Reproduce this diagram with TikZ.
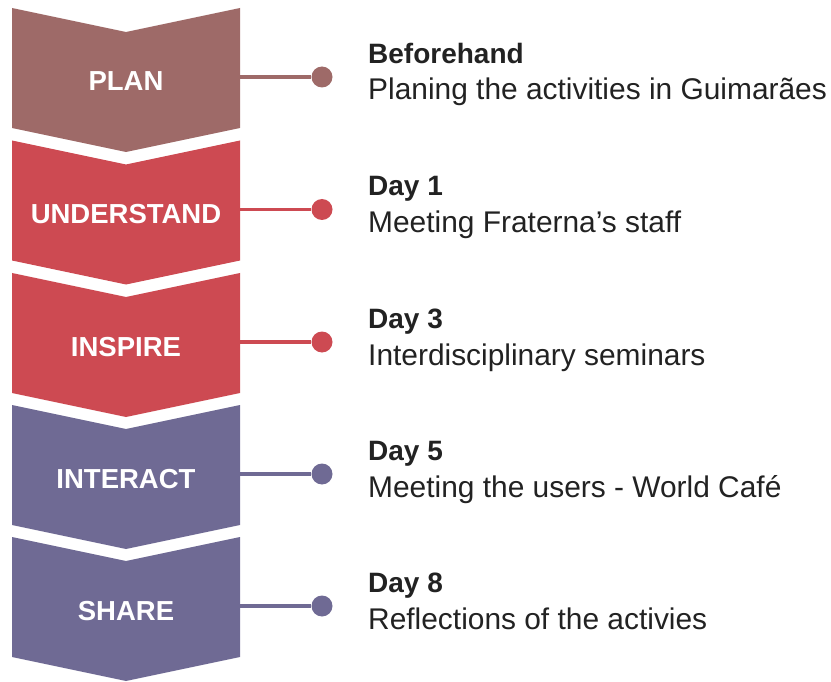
\documentclass[tikz,border=0pt]{standalone}
\usepackage{fontspec}
\setmainfont{Liberation Sans}
\definecolor{planc}{HTML}{9E6A68}
\definecolor{redc}{HTML}{CD4A52}
\definecolor{purc}{HTML}{6F6A94}
\definecolor{ink}{HTML}{222222}
\begin{document}
\begin{tikzpicture}[x=1pt,y=-1pt,
  phase/.style={font=\bfseries\fontsize{27.5}{30}\selectfont, text=white, anchor=base, inner sep=0pt},
  title/.style={font=\bfseries\fontsize{28}{32}\selectfont, text=ink, anchor=base west, inner sep=0pt},
  desc/.style={font=\fontsize{29.9}{34}\selectfont, text=ink, anchor=base west, inner sep=0pt},
  link/.style={line width=3.5pt},
  dot/.style={circle, minimum size=21pt, inner sep=0pt}]
\useasboundingbox (0,0) rectangle (831,682);
% one chevron step: colour, top y, label, name, title, description
\newcommand\stage[6]{%
  \fill[#1] (12,#2) -- (126,#2+24) -- (240,#2) -- (240,#2+120)
     -- (126,#2+144) -- (12,#2+120) -- cycle;
  \node[phase] (#4) at (126,#2+83) {#3};
  \coordinate (#4-edge) at (240,#2+69);
  \node[dot, fill=#1] (#4-dot) at (322,#2+69) {};
  \draw[link, #1] (#4-edge) -- (#4-dot);
  \node[title] (#4-title) at (368,#2+55.5) {#5};
  \node[desc] (#4-desc) at (368,#2+92) {#6};
}
\stage{planc}{8}{PLAN}{plan}{Beforehand}{Planing the activities in Guimarães}
\stage{redc}{140.5}{UNDERSTAND}{understand}{Day 1}{Meeting Fraterna’s staff}
\stage{redc}{273}{INSPIRE}{inspire}{Day 3}{Interdisciplinary seminars}
\stage{purc}{405}{INTERACT}{interact}{Day 5}{Meeting the users - World Café}
\stage{purc}{537}{SHARE}{share}{Day 8}{Reflections of the activies}
\end{tikzpicture}
\end{document}
